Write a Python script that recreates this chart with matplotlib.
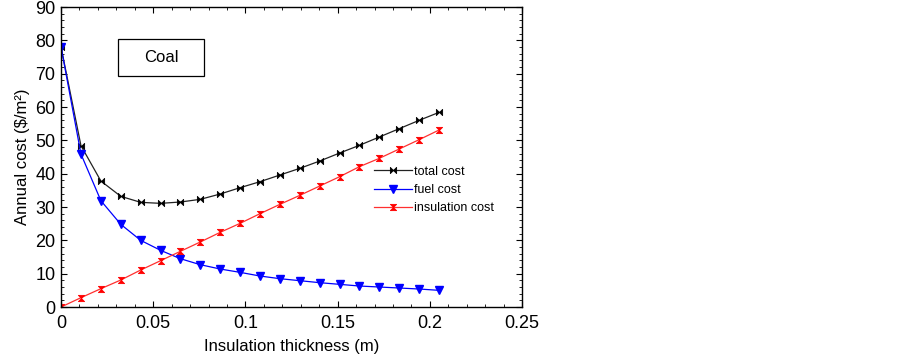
import matplotlib.pyplot as plt
import numpy as np
from matplotlib.path import Path
from matplotlib.patches import Rectangle
from matplotlib.ticker import MultipleLocator

plt.rcParams['font.family'] = ['Liberation Sans', 'DejaVu Sans']

# insulation thickness (m)
thickness = [0.0, 0.0108, 0.0216, 0.0324, 0.0432, 0.054, 0.0647, 0.0755,
             0.0863, 0.0971, 0.1079, 0.1187, 0.1295, 0.1403, 0.1511,
             0.1618, 0.1726, 0.1834, 0.1942, 0.205]
total_cost = [78.0, 48.4, 37.8, 33.2, 31.4, 31.1, 31.5, 32.3, 33.9, 35.8,
              37.6, 39.6, 41.6, 43.8, 46.2, 48.5, 51.0, 53.5, 56.0, 58.4]
fuel_cost = [78.0, 45.9, 31.9, 24.8, 20.0, 17.0, 14.5, 12.7, 11.4, 10.4,
             9.3, 8.5, 7.9, 7.3, 6.8, 6.3, 6.0, 5.7, 5.4, 5.0]
insulation_cost = [0.0, 2.8, 5.5, 8.1, 11.1, 13.9, 16.7, 19.5, 22.4, 25.1,
                   28.0, 30.8, 33.5, 36.3, 39.1, 42.1, 44.6, 47.4, 50.2, 53.1]

# custom markers: horizontal bowtie and vertical hourglass
bowtie = Path([(-1, -1), (0, 0), (-1, 1), (-1, -1), (1, -1), (0, 0), (1, 1), (1, -1)],
              [Path.MOVETO, Path.LINETO, Path.LINETO, Path.CLOSEPOLY,
               Path.MOVETO, Path.LINETO, Path.LINETO, Path.CLOSEPOLY])
hourglass = Path([(-1, 1), (1, 1), (0, 0), (-1, 1), (-1, -1), (1, -1), (0, 0), (-1, -1)],
                 [Path.MOVETO, Path.LINETO, Path.LINETO, Path.CLOSEPOLY,
                  Path.MOVETO, Path.LINETO, Path.LINETO, Path.CLOSEPOLY])

fig = plt.figure(figsize=(9.03, 3.56), dpi=100)
ax = fig.add_axes([0.0676, 0.1376, 0.5105, 0.8427])

ax.plot(thickness, total_cost, color='#222222', lw=0.9, marker=bowtie, ms=4.5,
        mfc='black', mec='black', mew=0.6, label='total cost')
ax.plot(thickness, fuel_cost, color='#0000ff', lw=0.9, marker='v', ms=5.5,
        mfc='#0000ff', mec='#0000ff', label='fuel cost')
ax.plot(thickness, insulation_cost, color='#ff3030', lw=0.9, marker=hourglass, ms=4.5,
        mfc='#ff0000', mec='#ff0000', mew=0.6, label='insulation cost')

ax.set_xlim(0, 0.25)
ax.set_ylim(0, 90)
ax.xaxis.set_major_locator(MultipleLocator(0.05))
ax.xaxis.set_minor_locator(MultipleLocator(0.01))
ax.yaxis.set_major_locator(MultipleLocator(10))
ax.yaxis.set_minor_locator(MultipleLocator(2))
ax.set_xticks([0, 0.05, 0.1, 0.15, 0.2, 0.25])
ax.set_xticklabels(['0', '0.05', '0.1', '0.15', '0.2', '0.25'])
ax.tick_params(which='both', direction='in', top=True, right=True, labelsize=13)
ax.tick_params(which='major', length=4, width=0.8, pad=4)
ax.tick_params(axis='x', which='major', pad=6)
ax.tick_params(which='minor', length=2, width=0.6)
for s in ax.spines.values():
    s.set_linewidth(1.0)

ax.set_xlabel('Insulation thickness (m)', fontsize=12, labelpad=5)
ax.set_ylabel('Annual cost ($/m²)', fontsize=12, labelpad=4)

ax.add_patch(Rectangle((0.124, 0.77), 0.186, 0.123, transform=ax.transAxes,
                       fc='white', ec='black', lw=0.9, zorder=5))
ax.text(0.217, 0.833, 'Coal', transform=ax.transAxes, fontsize=12,
        ha='center', va='center', zorder=6)

ax.legend(loc='upper left', bbox_to_anchor=(0.66, 0.50), frameon=False,
          fontsize=9, handlelength=3.0, handletextpad=0.2, labelspacing=0.5,
          borderpad=0.2)

fig.savefig('out.png', dpi=100)
